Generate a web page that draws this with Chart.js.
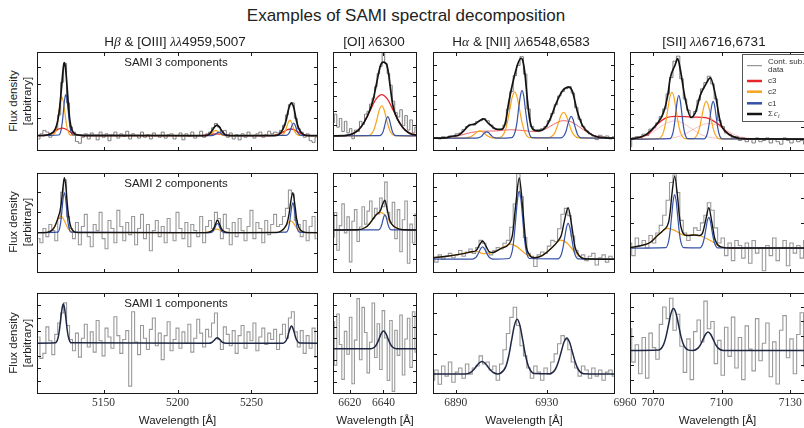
<!DOCTYPE html>
<html>
<head>
<meta charset="utf-8">
<script src="https://cdn.jsdelivr.net/npm/chart.js@4.4.0/dist/chart.umd.min.js"></script>
<style>
  html, body { margin: 0; padding: 0; width: 804px; height: 428px; overflow: hidden; background: #fff;
    font-family: "Liberation Sans", Arial, sans-serif; color: #222; }
  canvas { position: absolute; }
  .t { position: absolute; white-space: nowrap; transform: translateX(-50%); z-index: 2; }
  .m { font-family: "Liberation Serif", serif; font-style: italic; }
  .yl { position: absolute; font-size: 11.5px; line-height: 13px; white-space: nowrap;
    transform: translate(-50%, -50%) rotate(-90deg); z-index: 2; }
</style>
</head>
<body>
<div class="t" style="left:406px;top:6px;font-size:17px;line-height:20px">Examples of SAMI spectral decomposition</div>
<div class="t" style="left:175px;top:33px;font-size:13.5px;line-height:17px">H<span class="m">β</span> &amp; [OIII] <span class="m">λλ</span>4959,5007</div>
<div class="t" style="left:374px;top:33px;font-size:13.5px;line-height:17px">[OI] <span class="m">λ</span>6300</div>
<div class="t" style="left:521px;top:33px;font-size:13.5px;line-height:17px">H<span class="m">α</span> &amp; [NII] <span class="m">λλ</span>6548,6583</div>
<div class="t" style="left:714px;top:33px;font-size:13.5px;line-height:17px">[SII] <span class="m">λλ</span>6716,6731</div>
<div class="t" style="left:176px;top:55px;font-size:11.5px;line-height:14px">SAMI 3 components</div>
<div class="t" style="left:176px;top:176px;font-size:11.5px;line-height:14px">SAMI 2 components</div>
<div class="t" style="left:176px;top:296px;font-size:11.5px;line-height:14px">SAMI 1 components</div>
<div class="yl" style="left:12.5px;top:101px">Flux density</div>
<div class="yl" style="left:27px;top:101px">[arbitrary]</div>
<div class="yl" style="left:12.5px;top:222px">Flux density</div>
<div class="yl" style="left:27px;top:222px">[arbitrary]</div>
<div class="yl" style="left:12.5px;top:343px">Flux density</div>
<div class="yl" style="left:27px;top:343px">[arbitrary]</div>
<script>
// wavelength grids of the continuum-subtracted spectra
const hbStart = 5106, hbStep = 2;
const oiStart = 6610, oiStep = 1.5;
const haStart = 6880, haStep = 1.5;
const siiStart = 7060, siiStep = 1.5;

// ---------- row 1: SAMI 3 components ----------
const r1HbData = [
  -0.2, 0.1, 0.3, 0.2, -0.1, 0.15, 0.35, 1.2, 3.1, 4.2,
  1.9, 0.5, 0.2, -0.35, -0.45, -0.1, 0.1, -0.2, 0.15, 0.0,
  -0.25, 0.2, -0.1, 0.1, -0.3, 0.05, 0.2, -0.15, 0.1, -0.05,
  0.25, -0.2, 0.1, 0.0, -0.15, 0.2, -0.1, 0.05, -0.2, 0.15,
  0.0, -0.1, 0.2, -0.15, 0.05, 0.1, -0.2, 0.0, 0.15, -0.25,
  0.1, -0.05, 0.2, -0.15, 0.0, 0.25, -0.1, 0.1, 0.2, 0.45,
  0.7, 0.5, 0.2, 0.3, -0.1, 0.15, -0.2, 0.05, -0.25, 0.1,
  -0.1, 0.2, 0.0, -0.15, 0.1, 0.2, -0.1, 0.05, 0.25, 0.1,
  0.2, 0.15, 0.3, 0.6, 1.2, 1.8, 1.9, 1.0, 0.4, 0.2,
  -0.1, 0.1, -0.3, -0.4, -0.1];
const r1HbC1 = [[5105,0],[5119.7,0.03],[5121.3,0.32],[5122.1,0.77],[5122.9,1.44],[5123.7,2.1],[5124.5,2.38],[5125.3,2.1],[5126.1,1.44],[5126.9,0.77],[5127.7,0.32],[5129.3,0.03],
  [5222.9,0],[5224.6,0.03],[5225.5,0.06],[5226.3,0.12],[5227.2,0.18],[5228,0.2],[5228.8,0.18],[5229.7,0.12],[5230.5,0.06],[5231.4,0.03],[5233.1,0],
  [5273.4,0.01],[5275.1,0.1],[5276,0.24],[5276.8,0.44],[5277.7,0.64],[5278.5,0.73],[5279.3,0.64],[5280.2,0.44],[5281,0.24],[5281.9,0.1],[5283.6,0.01],[5295,0]];
const r1HbC2 = [[5105,0],[5115.8,0.02],[5117.8,0.3],[5118.8,0.73],[5119.8,1.36],[5120.8,1.98],[5121.8,2.24],[5122.8,1.98],[5123.8,1.36],[5124.8,0.73],[5125.8,0.3],[5127.8,0.02],
  [5219.8,0],[5221.8,0.04],[5222.8,0.1],[5223.8,0.18],[5224.8,0.26],[5225.8,0.3],[5226.8,0.26],[5227.8,0.18],[5228.8,0.1],[5229.8,0.04],[5231.8,0],
  [5270,0.01],[5272,0.12],[5273,0.29],[5274,0.55],[5275,0.79],[5276,0.9],[5277,0.79],[5278,0.55],[5279,0.29],[5280,0.12],[5282,0.01],[5295,0]];
const r1HbC3 = [[5105,0],[5108.5,0],[5113,0.06],[5115.3,0.14],[5117.5,0.26],[5119.8,0.38],[5122,0.43],[5124.3,0.38],[5126.5,0.26],[5128.8,0.14],[5131,0.06],[5135.5,0],
  [5213,0],[5217.5,0.01],[5222,0.06],[5226.5,0.1],[5231,0.06],[5235.5,0.01],[5240,0],
  [5263,0],[5267.5,0.05],[5269.8,0.12],[5272,0.23],[5274.3,0.34],[5276.5,0.38],[5278.8,0.34],[5281,0.23],[5283.3,0.12],[5285.5,0.05],[5290,0],[5295,0]];
const r1HbSum = [[5105,0],[5110,0.01],[5113,0.06],[5115.5,0.17],[5117.5,0.4],[5119,0.85],[5120.3,1.6],[5121.5,2.7],[5122.5,3.7],[5123.3,4.24],[5124.2,4.0],[5125.2,3.0],[5126.2,1.8],[5127.2,0.9],[5128.5,0.35],[5130.5,0.1],[5133,0.03],[5136,0],
  [5219,0],[5221.5,0.08],[5223.5,0.3],[5225,0.5],[5226.7,0.61],[5228.3,0.5],[5230,0.27],[5232,0.07],[5235,0],
  [5266,0],[5269,0.1],[5271.5,0.4],[5273.5,0.9],[5275,1.5],[5277,1.9],[5278.7,1.6],[5280.3,0.9],[5282,0.4],[5284.5,0.1],[5288,0],[5295,0]];

const r1OiData = [
  0.9, 1.5, 0.6, 1.2, 0.3, 1.0, 0.2, 0.5, -0.2, 0.4,
  0.3, 1.0, 0.8, 1.5, 1.7, 2.2, 2.6, 3.4, 4.3, 4.8,
  5.8, 5.0, 4.3, 3.5, 2.4, 1.6, 1.3, 1.8, 0.7, 1.4,
  0.4, 1.1, 0.2, 0.6];
const r1OiC3 = [[6610,0],[6618,0.03],[6625,0.39],[6628.5,0.93],[6632,1.73],[6635.5,2.52],[6639,2.85],[6642.5,2.52],[6646,1.73],[6649.5,0.93],[6653,0.39],[6660,0.03]];
const r1OiC2 = [[6610,0],[6631.2,0.02],[6633.8,0.28],[6635.1,0.68],[6636.4,1.26],[6637.7,1.84],[6639,2.08],[6640.3,1.84],[6641.6,1.26],[6642.9,0.68],[6644.2,0.28],[6646.8,0.02],[6660,0]];
const r1OiC1 = [[6610,0],[6637.8,0.01],[6639.4,0.18],[6640.2,0.43],[6641,0.81],[6641.8,1.17],[6642.6,1.33],[6643.4,1.17],[6644.2,0.81],[6645,0.43],[6645.8,0.18],[6647.4,0.01],[6660,0]];
const r1OiSum = [[6610,0],[6618,0.03],[6625,0.39],[6628.5,0.93],[6632,1.79],[6634,2.54],[6636,3.67],[6638,4.76],[6639,5.04],[6640,5.1],[6641,5.06],[6642,4.91],[6643,4.35],[6644,3.45],[6645.5,2.2],[6647,1.53],[6650,0.83],[6653,0.39],[6656,0.15],[6660,0.03]];

const r1HaData = [
  0.0, 0.05, -0.05, 0.1, 0.0, 0.15, 0.1, 0.3, 0.35, 0.6,
  0.8, 0.95, 0.9, 1.15, 1.2, 1.35, 1.2, 0.9, 0.65, 0.6,
  0.6, 0.9, 2.0, 3.2, 4.3, 5.0, 5.6, 4.4, 2.0, 0.8,
  0.55, 0.6, 0.65, 0.8, 1.2, 1.7, 2.3, 2.9, 3.2, 3.4,
  3.55, 3.1, 2.1, 1.3, 0.8, 0.5, 0.3, 0.15, -0.1, 0.2,
  0.1, 0.15, -0.05, 0.1];
const r1HaC1 = [[6880,0],[6899.1,0],[6900.6,0.06],[6901.4,0.14],[6902.1,0.27],[6902.9,0.39],[6903.6,0.44],[6904.4,0.39],[6905.1,0.27],[6905.9,0.14],[6906.6,0.06],[6908.1,0],
  [6914.6,0.04],[6916.1,0.44],[6916.9,1.07],[6917.6,1.99],[6918.4,2.89],[6919.1,3.28],[6919.9,2.89],[6920.6,1.99],[6921.4,1.07],[6922.1,0.44],[6923.6,0.04],
  [6936.2,0.02],[6937.7,0.2],[6938.5,0.49],[6939.2,0.91],[6940,1.32],[6940.7,1.5],[6941.5,1.32],[6942.2,0.91],[6943,0.49],[6943.7,0.2],[6945.2,0.02],[6960,0]];
const r1HaC2 = [[6880,0],[6894,0.01],[6896.2,0.07],[6897.3,0.16],[6898.4,0.3],[6899.5,0.44],[6900.6,0.5],[6901.7,0.44],[6902.8,0.3],[6903.9,0.16],[6905,0.07],[6907.2,0.01],
  [6909.3,0.04],[6911.5,0.43],[6912.6,1.03],[6913.7,1.92],[6914.8,2.8],[6915.9,3.17],[6917,2.8],[6918.1,1.92],[6919.2,1.03],[6920.3,0.43],[6922.5,0.04],
  [6930.8,0.02],[6933,0.24],[6934.1,0.58],[6935.2,1.08],[6936.3,1.57],[6937.4,1.78],[6938.5,1.57],[6939.6,1.08],[6940.7,0.58],[6941.8,0.24],[6944,0.02],[6960,0]];
const r1HaC3 = [[6880,0],[6886,0.05],[6892,0.2],[6897,0.4],[6902,0.48],[6908,0.5],[6914,0.58],[6920,0.52],[6925,0.45],[6929,0.6],[6933,0.95],[6937,1.2],[6941,1.1],[6945,0.7],[6949,0.3],[6953,0.1],[6960,0.02]];
const r1HaSum = [[6880,0],[6885,0.02],[6889,0.15],[6891.2,0.2],[6893.5,0.5],[6895.6,0.85],[6898.7,1.0],[6900.5,1.2],[6902.2,1.32],[6904.5,1.0],[6906.8,0.7],[6908.5,0.6],[6910.4,0.62],[6912,1.2],[6913.3,2.47],[6915.5,4.1],[6917.5,5.2],[6918.7,5.49],[6919.5,5.3],[6920.5,4.3],[6921.5,2.6],[6922.5,1.3],[6924,0.6],[6926.5,0.5],[6929.5,0.75],[6932,1.5],[6934,2.35],[6937,3.28],[6939.6,3.51],[6941.2,3.25],[6943.5,1.8],[6945.8,0.85],[6948.7,0.35],[6952,0.1],[6956,0.02],[6960,0]];

const r1SiiData = [
  -0.6, 0.1, 0.2, 0.0, 0.4, 0.3, 0.8, 0.9, 1.3, 1.8,
  2.4, 3.6, 4.9, 6.2, 6.6, 4.8, 3.2, 2.3, 1.7, 2.2,
  3.1, 4.0, 4.5, 5.0, 4.4, 3.2, 1.5, 1.0, 0.5, 0.4,
  0.1, 0.2, -0.1, 0.1, -0.2, 0.0, -0.3, 0.1, -0.2, -0.1,
  0.1, -0.3, 0.0, -0.2, -0.4, 0.1, -0.1, -0.3, 0.0, -0.2,
  -0.1, -0.4, 0.1, -0.2, 0.0, -0.3, -0.1, 0.1, -0.2, 0.0, -0.1];
const r1SiiC1 = [[7060,0],[7077.4,0.04],[7078.7,0.47],[7079.35,1.13],[7080,2.1],[7080.65,3.06],[7081.3,3.47],[7081.95,3.06],[7082.6,2.1],[7083.25,1.13],[7083.9,0.47],[7085.2,0.04],
  [7092.4,0.03],[7093.7,0.41],[7094.35,0.97],[7095,1.82],[7095.65,2.65],[7096.3,3.0],[7096.95,2.65],[7097.6,1.82],[7098.25,0.97],[7098.9,0.41],[7100.2,0.03],[7140,0]];
const r1SiiC2 = [[7060,0],[7072.6,0.04],[7074.5,0.5],[7075.45,1.21],[7076.4,2.26],[7077.35,3.29],[7078.3,3.73],[7079.25,3.29],[7080.2,2.26],[7081.15,1.21],[7082.1,0.5],[7084,0.04],
  [7087.6,0.03],[7089.5,0.41],[7090.45,0.97],[7091.4,1.82],[7092.35,2.65],[7093.3,3.0],[7094.25,2.65],[7095.2,1.82],[7096.15,0.97],[7097.1,0.41],[7099,0.03],[7140,0]];
const r1SiiC3 = [[7060,0],[7064,0.1],[7068.3,0.45],[7072,1.2],[7075.7,1.7],[7080,1.82],[7084,1.8],[7088,1.75],[7093,1.72],[7096,1.5],[7099.5,1.06],[7103.9,0.3],[7108,0.05],[7115,0],[7140,0]];
const r1SiiC3a = [[7058.5,0.02],[7065.5,0.2],[7069,0.47],[7072.5,0.88],[7076,1.28],[7079.5,1.45],[7083,1.28],[7086.5,0.88],[7090,0.47],[7093.5,0.2],[7100.5,0.02]];
const r1SiiC3b = [[7073.5,0.01],[7080.5,0.17],[7084,0.41],[7087.5,0.76],[7091,1.1],[7094.5,1.25],[7098,1.1],[7101.5,0.76],[7105,0.41],[7108.5,0.17],[7115.5,0.01]];
const r1SiiSum = [[7060,0],[7064,0.15],[7067.3,0.4],[7071.7,1.2],[7074.6,2.1],[7076.5,3.5],[7077.5,4.8],[7079.7,5.9],[7080.8,6.4],[7081.9,5.6],[7084.1,3.2],[7086.6,1.73],[7088.5,2.1],[7090.7,3.5],[7092.9,4.3],[7095.1,4.88],[7097.3,3.5],[7099.5,1.3],[7102.4,0.5],[7106.8,0.1],[7112,0.02],[7140,0]];

// ---------- row 2: SAMI 2 components ----------
const r2HbData = [
  -0.3, -0.5, 0.2, -0.2, 0.4, 0.1, -0.4, 0.7, 2.0, 2.6,
  0.8, 0.2, -0.3, 0.5, -0.6, 0.3, 0.9, -0.2, -0.7, 0.4,
  0.1, 1.0, -0.3, -0.8, 0.6, 0.2, -0.5, 1.1, 0.3, -0.4,
  0.5, -0.1, 0.8, -0.6, 0.2, 0.9, -0.3, 0.4, -0.9, 0.1,
  0.6, -0.2, 0.3, -0.5, 0.7, 0.0, -0.4, 1.0, 0.2, -0.3,
  0.5, -0.7, 0.4, 0.1, -0.2, 0.8, -0.5, 0.3, 0.6, 0.2,
  1.0, 0.7, -0.3, 0.9, 0.2, -0.6, 0.5, -0.2, 0.7, 0.1,
  -0.4, 0.3, 1.1, -0.3, 0.5, 0.2, -0.5, 0.6, -0.1, 0.4,
  0.9, 0.3, 0.4, 0.8, 1.2, 2.1, 1.9, 0.6, 0.4, -0.2,
  0.6, -0.4, 0.3, 0.8, -0.3];
const r2HbC1 = [[5105,0],[5119,0.02],[5120.5,0.27],[5121.25,0.64],[5122,1.2],[5122.75,1.74],[5123.5,1.97],[5124.25,1.74],[5125,1.2],[5125.75,0.64],[5126.5,0.27],[5128,0.02],
  [5222.5,0],[5224,0.06],[5224.75,0.15],[5225.5,0.27],[5226.25,0.4],[5227,0.45],[5227.75,0.4],[5228.5,0.27],[5229.25,0.15],[5230,0.06],[5231.5,0],
  [5273.5,0.02],[5275,0.2],[5275.75,0.48],[5276.5,0.89],[5277.25,1.3],[5278,1.47],[5278.75,1.3],[5279.5,0.89],[5280.25,0.48],[5281,0.2],[5282.5,0.02],[5295,0]];
const r2HbC2 = [[5105,0],[5112.1,0.01],[5115.1,0.11],[5116.6,0.26],[5118.1,0.49],[5119.6,0.71],[5121.1,0.8],[5122.6,0.71],[5124.1,0.49],[5125.6,0.26],[5127.1,0.11],[5130.1,0.01],
  [5217.5,0],[5220.5,0.02],[5223.5,0.1],[5226.5,0.17],[5229.5,0.1],[5232.5,0.02],[5235.5,0],
  [5267.5,0.01],[5270.5,0.08],[5272,0.19],[5273.5,0.35],[5275,0.51],[5276.5,0.58],[5278,0.51],[5279.5,0.35],[5281,0.19],[5282.5,0.08],[5285.5,0.01],[5295,0]];
const r2HbSum = [[5105,0],[5112,0.01],[5115,0.11],[5117,0.3],[5119,0.68],[5120.5,1.05],[5121.5,1.5],[5122.5,2.2],[5123.5,2.72],[5124.5,2.3],[5125.5,1.4],[5126.5,0.75],[5128,0.25],[5130,0.05],[5133,0],
  [5219,0],[5222,0.04],[5224,0.15],[5225.5,0.38],[5227,0.62],[5228.5,0.4],[5230,0.16],[5232,0.04],[5235,0],
  [5267,0],[5270,0.08],[5272,0.2],[5274,0.45],[5275.5,0.95],[5276.5,1.5],[5278,1.97],[5279.5,1.3],[5280.5,0.7],[5282,0.26],[5284,0.08],[5287,0],[5295,0]];

const r2OiData = [
  -0.5, 1.2, -1.4, 0.3, 1.8, -0.2, 0.9, -2.2, 0.6, 1.4,
  -0.8, 0.2, 1.6, 0.4, 1.3, 2.0, 0.8, 1.5, 1.1, 2.2,
  1.6, 3.3, 1.2, 0.5, 1.9, -0.6, 1.4, -1.5, 0.7, 2.0,
  -2.3, 0.4, -0.9, 1.1];
const r2OiC2 = [[6610,0],[6624.7,0.01],[6629.2,0.17],[6631.45,0.4],[6633.7,0.74],[6635.95,1.08],[6638.2,1.22],[6640.45,1.08],[6642.7,0.74],[6644.95,0.4],[6647.2,0.17],[6651.7,0.01],[6660,0]];
const r2OiC1 = [[6610,0],[6637,0.01],[6638.3,0.14],[6638.95,0.34],[6639.6,0.63],[6640.25,0.92],[6640.9,1.04],[6641.55,0.92],[6642.2,0.63],[6642.85,0.34],[6643.5,0.14],[6644.8,0.01],[6660,0]];
const r2OiSum = [[6610,0],[6624.7,0.01],[6629.2,0.17],[6631.5,0.4],[6633.7,0.74],[6636,1.08],[6637.3,1.2],[6638.3,1.36],[6639.6,1.79],[6640.9,2.06],[6642.2,1.45],[6643.5,0.75],[6645,0.4],[6647.2,0.17],[6651.7,0.01],[6660,0]];

const r2HaData = [
  0.1, -0.2, 0.3, 0.0, 0.2, 0.4, 0.1, 0.3, 0.6, 0.2,
  0.5, 0.7, 0.4, 0.8, 1.3, 1.1, 0.5, 0.3, 0.6, 0.8,
  0.7, 1.1, 1.3, 2.2, 3.8, 5.9, 4.3, 1.5, 0.4, 0.2,
  -0.5, 0.3, 0.5, 0.4, 0.9, 1.3, 1.2, 2.1, 3.1, 3.5,
  3.0, 1.6, 0.6, 0.2, 0.3, -0.1, 0.2, 0.4, -0.4, 0.1,
  0.3, -0.2, 0.2, 0.0];
const r2HaC1 = [[6880,0],[6897.3,0.01],[6898.8,0.12],[6899.55,0.28],[6900.3,0.52],[6901.05,0.75],[6901.8,0.85],[6902.55,0.75],[6903.3,0.52],[6904.05,0.28],[6904.8,0.12],[6906.3,0.01],
  [6913.4,0.05],[6914.9,0.63],[6915.65,1.52],[6916.4,2.83],[6917.15,4.12],[6917.9,4.67],[6918.65,4.12],[6919.4,2.83],[6920.15,1.52],[6920.9,0.63],[6922.4,0.05],
  [6934.9,0.03],[6936.4,0.33],[6937.15,0.8],[6937.9,1.5],[6938.65,2.18],[6939.4,2.47],[6940.15,2.18],[6940.9,1.5],[6941.65,0.8],[6942.4,0.33],[6943.9,0.03],[6960,0]];
const r2HaC2 = [[6880,0.1],[6886,0.2],[6892,0.35],[6897,0.5],[6899.3,0.53],[6902.2,0.38],[6906,0.45],[6910,0.75],[6914,1.04],[6917,0.85],[6920,0.45],[6922.5,0.2],[6924.5,0.1],[6928,0.25],[6932,0.75],[6936.2,1.32],[6939,1.1],[6942,0.55],[6944.5,0.2],[6946.5,0.03],[6960,0]];
const r2HaSum = [[6880,0.1],[6886,0.2],[6892,0.35],[6897,0.51],[6899,0.6],[6900.3,0.95],[6901.8,1.25],[6903.3,0.9],[6904.8,0.5],[6906.3,0.46],[6910,0.75],[6913.4,1.05],[6914.9,1.65],[6916.4,3.8],[6917.9,5.6],[6919.4,3.6],[6920.9,1.0],[6922.4,0.3],[6924.5,0.1],[6928,0.25],[6932,0.75],[6934.9,1.25],[6936.4,1.65],[6937.9,2.75],[6939.4,3.55],[6940.9,2.4],[6942.4,0.85],[6944.5,0.2],[6946.5,0.03],[6960,0]];

const r2SiiData = [
  0.2, -0.3, 0.4, 0.1, 0.3, 0.0, 0.5, 0.2, 0.6, 0.9,
  1.3, 1.9, 2.6, 2.9, 2.2, 1.1, 0.6, 0.3, 0.5, 0.8,
  0.7, 1.0, 1.3, 1.8, 1.5, 0.8, 0.2, 0.4, -0.3, 0.2,
  -0.5, 0.3, 0.1, -0.4, 0.2, -0.6, 0.3, -0.2, 0.0, -0.9,
  0.1, -0.3, 0.4, -0.5, 0.0, 0.3, -0.7, 0.2, -0.2, 0.1,
  -0.4, 0.3, -0.1, 0.2, -0.6, 0.0, 0.4, -0.3, 0.1, -0.5, 0.2];
const r2SiiC1 = [[7060,0],[7075.6,0.02],[7076.9,0.29],[7077.55,0.69],[7078.2,1.29],[7078.85,1.87],[7079.5,2.12],[7080.15,1.87],[7080.8,1.29],[7081.45,0.69],[7082.1,0.29],[7083.4,0.02],
  [7090.5,0.01],[7091.8,0.17],[7092.45,0.4],[7093.1,0.74],[7093.75,1.08],[7094.4,1.22],[7095.05,1.08],[7095.7,0.74],[7096.35,0.4],[7097,0.17],[7098.3,0.01],[7140,0]];
const r2SiiC2 = [[7060,0.02],[7064,0.08],[7068.8,0.22],[7072,0.5],[7076.5,0.78],[7080,0.68],[7083,0.52],[7085,0.5],[7088,0.52],[7090.7,0.49],[7093,0.4],[7096,0.25],[7098,0.12],[7100,0.04],[7104,0],[7140,0]];
const r2SiiSum = [[7060,0.02],[7064,0.08],[7068.8,0.22],[7072,0.5],[7074.5,0.7],[7076.9,1.05],[7077.55,1.45],[7078.2,2.05],[7079.5,2.85],[7080.8,2.0],[7081.45,1.37],[7082.1,0.9],[7083.4,0.56],[7085,0.5],[7088,0.52],[7090.5,0.5],[7091.8,0.63],[7093.1,1.13],[7094.4,1.6],[7095.7,1.05],[7097,0.38],[7098.3,0.13],[7100,0.04],[7104,0],[7140,0]];

// ---------- row 3: SAMI 1 component ----------
const r3HbData = [
  0.5, -1.2, -0.8, 1.3, 0.2, -0.9, 0.7, 1.6, 2.4, 3.2,
  1.4, 0.3, -0.6, 0.8, -1.1, 0.4, 1.5, -0.3, 0.9, -0.7,
  1.8, 0.2, -1.0, 1.2, 0.5, -0.4, 2.1, 0.6, -0.8, 0.3,
  1.0, -3.4, 2.5, 0.1, -0.9, 1.4, 0.4, -0.5, 1.1, 2.0,
  -0.2, 0.8, -1.3, 0.6, 1.7, -0.6, 0.3, 1.2, -0.4, 0.9,
  0.0, 1.5, -0.7, 0.4, 1.9, 0.8, -0.3, 1.1, 0.5, 1.6,
  2.4, 0.3, -0.5, 1.3, 0.7, -0.2, 1.0, -0.8, 0.6, 1.4,
  -0.4, 0.9, 0.2, 1.6, -0.6, 0.5, 1.2, -0.1, 0.8, 0.3,
  1.1, -0.5, 0.7, 1.5, 0.4, 2.0, 2.5, 0.9, -0.3, 1.0,
  -0.8, 0.6, -0.4, 1.2, -1.1];
const r3HbFit = [[5105,0],[5117.4,0.03],[5119.2,0.42],[5120.1,0.99],[5121,1.89],[5121.9,2.73],[5122.8,3.1],[5123.7,2.73],[5124.6,1.89],[5125.5,0.99],[5126.4,0.42],[5128.2,0.03],
  [5221.2,0],[5223.1,0.06],[5224,0.14],[5225,0.26],[5226,0.38],[5226.9,0.43],[5227.8,0.38],[5228.8,0.26],[5229.7,0.14],[5230.7,0.06],[5232.6,0],
  [5271.4,0],[5273.3,0.19],[5274.3,0.44],[5275.2,0.83],[5276.2,1.2],[5277.1,1.36],[5278,1.2],[5279,0.83],[5279.9,0.44],[5280.9,0.19],[5282.8,0.01],[5295,0]];

const r3OiData = [
  2.5, -1.5, 3.2, 0.4, -2.8, 1.6, -0.5, 2.9, -3.2, 0.8,
  4.6, -1.0, 3.8, 1.5, -2.2, 0.6, 4.2, -0.8, 2.3, -1.9,
  3.5, 1.0, -2.9, 2.6, -3.9, 1.7, -0.6, 3.1, -2.4, 0.9,
  2.8, -1.7, 3.4, -0.3];
const r3OiFit = [[6610,0],[6632.6,0.02],[6635.1,0.22],[6636.35,0.53],[6637.6,0.99],[6638.85,1.44],[6640.1,1.63],[6641.35,1.44],[6642.6,0.99],[6643.85,0.53],[6645.1,0.22],[6647.6,0.02],[6660,0]];

const r3HaData = [
  -0.3, 0.2, -0.5, 0.4, -0.1, 0.6, -0.4, 0.1, 0.3, -0.2,
  0.5, 0.0, 0.3, 0.4, 0.9, 0.5, 0.6, 0.2, 0.4, -0.3,
  0.5, 1.2, 2.0, 2.8, 3.3, 2.4, 1.4, 0.9, 0.3, -0.2,
  0.4, 0.1, -0.3, 0.3, 0.0, 0.6, 1.0, 1.5, 1.9, 1.7,
  1.2, 0.6, 0.3, -0.1, 0.4, 0.2, -0.2, 0.3, -0.1, 0.2,
  -0.3, 0.1, 0.2, -0.1];
const r3HaFit = [[6880,0],[6894,0],[6896.5,0.08],[6897.75,0.2],[6899,0.38],[6900.25,0.55],[6901.5,0.62],[6902.75,0.55],[6904,0.38],[6905.25,0.2],[6906.5,0.08],[6908.5,0.01],
  [6909.5,0.03],[6912,0.37],[6913.25,0.88],[6914.5,1.64],[6915.75,2.38],[6917,2.7],[6918.25,2.38],[6919.5,1.64],[6920.75,0.88],[6922,0.37],[6924.5,0.03],
  [6931.3,0.02],[6933.8,0.24],[6935.05,0.58],[6936.3,1.08],[6937.55,1.57],[6938.8,1.78],[6940.05,1.57],[6941.3,1.08],[6942.55,0.58],[6943.8,0.24],[6946.3,0.02],[6960,0]];

const r3SiiData = [
  1.5, -0.8, 0.4, -1.6, 0.9, -1.9, 1.2, 0.2, -0.6, 1.8,
  3.0, 2.2, 3.6, 1.4, 2.5, 0.3, -1.5, 0.8, -2.0, 1.3,
  2.1, 0.6, 3.4, 1.5, 2.0, -0.9, 0.7, -1.7, 1.6, -0.4,
  2.3, -1.2, 0.9, -2.0, 1.7, 0.1, -1.4, 2.2, -0.7, 0.5,
  1.9, -1.8, 0.6, -2.3, 1.4, 2.4, -0.5, 0.8, -1.6, 1.1,
  2.6, -1.1, 0.3, 1.9, -0.9, 2.2, 0.4, -1.3, 1.8, 2.5, -0.2];
const r3SiiFit = [[7060,0],[7072.4,0.03],[7074.6,0.39],[7075.7,0.94],[7076.8,1.76],[7077.9,2.56],[7079,2.9],[7080.1,2.56],[7081.2,1.76],[7082.3,0.94],[7083.4,0.39],[7085.6,0.03],
  [7087.5,0.01],[7089.7,0.17],[7090.8,0.41],[7091.9,0.77],[7093,1.12],[7094.1,1.27],[7095.2,1.12],[7096.3,0.77],[7097.4,0.41],[7098.5,0.17],[7100.7,0.01],[7140,0]];

// axes: wavelength range and ticks per column, flux range and ticks per panel
const colRanges = [[5105, 5295], [6610, 6660], [6880, 6960], [7060, 7136.4]];
const colTicks = [[5150, 5200, 5250], [6620, 6640], [6890, 6930], [7070, 7100, 7130]];
const yRanges = [
  [[-0.9, 4.86], [-1.05, 5.8], [-0.88, 5.92], [-0.94, 6.93]],
  [[-2.0, 2.95], [-2.97, 3.93], [-0.95, 5.94], [-0.99, 2.98]],
  [[-4.02, 3.98], [-4.14, 5.12], [-0.98, 4.0], [-2.99, 3.96]]
];
const yTicks = [
  [[1, 2, 3, 4], [0.75, 1.75, 2.75, 3.75, 4.75], [1, 2, 3, 4, 5], [1, 2, 3, 4, 5, 6]],
  [[-1, 1, 2], [-2, -1, 1, 2, 3], [1, 2, 3, 4, 5], [1, 2]],
  [[-3, -2, -1, 1, 2, 3], [-3, -2, -1, 1, 2, 3, 4], [1, 2, 3], [-2, -1, 1, 2, 3]]
];

// layout of the plot boxes in page pixels
const colBox = [[37, 318], [333, 417], [433, 615], [630, 805]];
const rowBox = [[52, 151], [173, 273], [293, 394]];

const colC3 = '#e8262a', colC2 = '#f8a41c', colC1 = '#3551a8';
const styles = {
  c3: {color: colC3, width: 1.3},
  c3t: {color: 'rgba(232,38,42,0.7)', width: 1},
  c3f: {color: 'rgba(232,38,42,0.35)', width: 0.8},
  c2: {color: colC2, width: 1.2},
  c1: {color: colC1, width: 1.2},
  sum: {color: '#141414', width: 1.7},
  sum2: {color: '#141414', width: 1.4},
  fit: {color: '#1f2744', width: 1.5}
};

function bins(start, step, vals) {
  return vals.map((v, i) => [start + i * step, v]);
}

const panels = [
  {r: 0, c: 0, data: bins(hbStart, hbStep, r1HbData), lines: [[r1HbC3, 'c3'], [r1HbC2, 'c2'], [r1HbC1, 'c1'], [r1HbSum, 'sum']]},
  {r: 0, c: 1, data: bins(oiStart, oiStep, r1OiData), lines: [[r1OiC3, 'c3'], [r1OiC2, 'c2'], [r1OiC1, 'c1'], [r1OiSum, 'sum']]},
  {r: 0, c: 2, data: bins(haStart, haStep, r1HaData), lines: [[r1HaC3, 'c3t'], [r1HaC2, 'c2'], [r1HaC1, 'c1'], [r1HaSum, 'sum']]},
  {r: 0, c: 3, data: bins(siiStart, siiStep, r1SiiData), legend: true,
    lines: [[r1SiiC3a, 'c3f'], [r1SiiC3b, 'c3f'], [r1SiiC3, 'c3'], [r1SiiC2, 'c2'], [r1SiiC1, 'c1'], [r1SiiSum, 'sum']]},
  {r: 1, c: 0, data: bins(hbStart, hbStep, r2HbData), lines: [[r2HbC2, 'c2'], [r2HbC1, 'c1'], [r2HbSum, 'sum2']]},
  {r: 1, c: 1, data: bins(oiStart, oiStep, r2OiData), lines: [[r2OiC2, 'c2'], [r2OiC1, 'c1'], [r2OiSum, 'sum2']]},
  {r: 1, c: 2, data: bins(haStart, haStep, r2HaData), lines: [[r2HaC2, 'c2'], [r2HaC1, 'c1'], [r2HaSum, 'sum2']]},
  {r: 1, c: 3, data: bins(siiStart, siiStep, r2SiiData), lines: [[r2SiiC2, 'c2'], [r2SiiC1, 'c1'], [r2SiiSum, 'sum2']]},
  {r: 2, c: 0, data: bins(hbStart, hbStep, r3HbData), lines: [[r3HbFit, 'fit']]},
  {r: 2, c: 1, data: bins(oiStart, oiStep, r3OiData), lines: [[r3OiFit, 'fit']]},
  {r: 2, c: 2, data: bins(haStart, haStep, r3HaData), lines: [[r3HaFit, 'fit']], edgeLabel: 6960},
  {r: 2, c: 3, data: bins(siiStart, siiStep, r3SiiData), lines: [[r3SiiFit, 'fit']]}
];

// frame, inward ticks, legend box
const framePlugin = {
  id: 'frame',
  afterDraw(chart, args, opts) {
    const {ctx, chartArea: a, scales} = chart;
    ctx.save();
    ctx.strokeStyle = '#1a1a1a';
    ctx.lineWidth = 1;
    ctx.strokeRect(a.left + 0.5, a.top + 0.5, a.right - a.left - 1, a.bottom - a.top - 1);
    ctx.beginPath();
    opts.xTicks.forEach(v => {
      const x = Math.round(scales.x.getPixelForValue(v)) + 0.5;
      ctx.moveTo(x, a.bottom); ctx.lineTo(x, a.bottom - 4);
      ctx.moveTo(x, a.top); ctx.lineTo(x, a.top + 4);
    });
    opts.yTicks.forEach(v => {
      const y = Math.round(scales.y.getPixelForValue(v)) + 0.5;
      ctx.moveTo(a.left, y); ctx.lineTo(a.left + 4, y);
      ctx.moveTo(a.right, y); ctx.lineTo(a.right - 4, y);
    });
    ctx.stroke();

    if (opts.edgeLabel) {
      ctx.fillStyle = '#333';
      ctx.font = '11.5px "Liberation Serif", serif';
      ctx.textAlign = 'center';
      ctx.textBaseline = 'middle';
      ctx.fillText(String(opts.edgeLabel), scales.x.getPixelForValue(opts.edgeLabel) + 10, a.bottom + 9);
    }

    if (opts.legend) {
      const x0 = a.left + 112, y0 = a.top + 2;
      ctx.fillStyle = '#fff';
      ctx.fillRect(x0, y0, 110, 68);
      ctx.strokeStyle = '#555';
      ctx.strokeRect(x0 + 0.5, y0 + 0.5, 110, 67);
      const items = [['#808080', 1, 11.7], [colC3, 2.5, 27], [colC2, 2.5, 37.7], [colC1, 2.5, 49.3], ['#141414', 2.5, 60]];
      items.forEach(([col, w, dy]) => {
        ctx.strokeStyle = col; ctx.lineWidth = w;
        ctx.beginPath(); ctx.moveTo(x0 + 5, y0 + dy); ctx.lineTo(x0 + 20, y0 + dy); ctx.stroke();
      });
      ctx.fillStyle = '#333';
      ctx.font = '8px "Liberation Sans", Arial, sans-serif';
      ctx.textAlign = 'left';
      ctx.textBaseline = 'middle';
      const tx = x0 + 26;
      ctx.fillText('Cont. sub.', tx, y0 + 7.5);
      ctx.fillText('data', tx, y0 + 15.5);
      ctx.fillText('c3', tx, y0 + 27);
      ctx.fillText('c2', tx, y0 + 37.7);
      ctx.fillText('c1', tx, y0 + 49.3);
      ctx.fillText('Σ', tx, y0 + 60);
      ctx.font = 'italic 8.5px "Liberation Serif", serif';
      ctx.fillText('c', tx + 6, y0 + 60);
      ctx.font = 'italic 6px "Liberation Serif", serif';
      ctx.fillText('i', tx + 10, y0 + 62.5);
    }
    ctx.restore();
  }
};

panels.forEach(p => {
  const [L, R] = colBox[p.c];
  const [T, B] = rowBox[p.r];
  const last = p.r === 2;
  const padL = 12, padR = p.c === 2 ? 28 : 12, padT = 5, padB = last ? 0 : 5;
  const axisH = last ? 428 - B : 0;
  const w = R - L + padL + padR, h = B - T + padT + padB + axisH;
  const cv = document.createElement('canvas');
  cv.width = w; cv.height = h;
  cv.style.left = (L - padL) + 'px';
  cv.style.top = (T - padT) + 'px';
  document.body.appendChild(cv);

  const grayCol = p.r === 0 ? '#7c7c7c' : '#9a9a9a';
  const layers = [{
    data: p.data, stepped: 'middle', borderColor: grayCol, borderWidth: p.r === 0 ? 1 : 1.1,
    pointRadius: 0, fill: false
  }];
  p.lines.forEach(([pts, kind]) => {
    layers.push({
      data: pts, borderColor: styles[kind].color, borderWidth: styles[kind].width,
      pointRadius: 0, fill: false, cubicInterpolationMode: 'monotone'
    });
  });
  // first dataset is drawn on top in Chart.js
  const datasets = layers.reverse();

  const [xmin, xmax] = colRanges[p.c];
  const [ymin, ymax] = yRanges[p.r][p.c];
  const xTickVals = colTicks[p.c];

  new Chart(cv, {
    type: 'line',
    data: {datasets},
    plugins: [framePlugin],
    options: {
      responsive: false,
      devicePixelRatio: 1,
      animation: false,
      events: [],
      layout: {padding: {left: padL, right: padR, top: padT, bottom: padB}},
      plugins: {
        legend: {display: false},
        tooltip: {enabled: false},
        frame: {xTicks: xTickVals, yTicks: yTicks[p.r][p.c], legend: !!p.legend, edgeLabel: p.edgeLabel}
      },
      scales: {
        x: {
          type: 'linear', min: xmin, max: xmax, display: last,
          grid: {display: false, drawTicks: false},
          border: {display: false},
          afterBuildTicks: s => { s.ticks = xTickVals.map(v => ({value: v})); },
          afterFit: s => { if (last) s.height = axisH; },
          ticks: {
            autoSkip: false, maxRotation: 0, padding: 2, color: '#333',
            font: {family: '"Liberation Serif", serif', size: 11.5},
            callback: v => String(v)
          },
          title: {
            display: true, text: 'Wavelength [Å]', color: '#222', padding: 0,
            font: {family: '"Liberation Sans", Arial, sans-serif', size: 11.5}
          }
        },
        y: {type: 'linear', min: ymin, max: ymax, display: false}
      }
    }
  });
});
</script>
</body>
</html>
